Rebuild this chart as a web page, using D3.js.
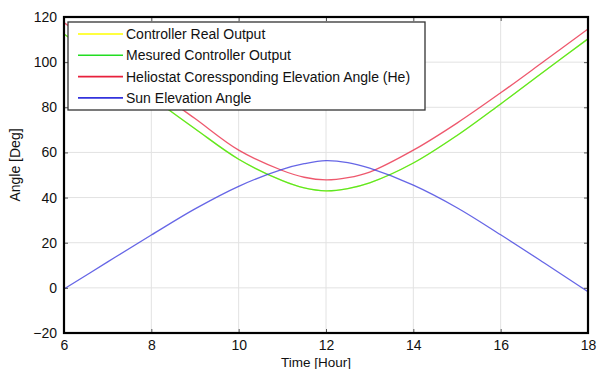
<!DOCTYPE html>
<html>
<head>
<meta charset="utf-8">
<script src="https://cdn.jsdelivr.net/npm/d3@7"></script>
<style>
  body { margin: 0; background: #fff; }
  svg { display: block; font-family: "Liberation Sans", Arial, sans-serif; }
</style>
</head>
<body>
<svg id="chart" width="597" height="369"></svg>
<script>
// time of day, hours
const hours = [6, 7, 8, 9, 10, 11, 11.5, 12, 12.5, 13, 14, 15, 16, 17, 18];
// (deg)
const realOutput = [112.5, 98.5, 84.5, 70.5, 57, 47.5, 44.3, 43, 44, 46.5, 55.3, 67.5, 81.5, 96, 110.3];
const measuredOutput = [112.5, 98.5, 84.5, 70.5, 57, 47.5, 44.3, 43, 44, 46.5, 55.3, 67.5, 81.5, 96, 110.3];
const heliostatAngle = [117.5, 103.5, 89, 75, 61, 52, 49, 47.8, 48.8, 51.3, 61, 73, 86.4, 100.5, 114.7];
const sunElevation = [-0.5, 11.5, 23.4, 35, 45, 52.5, 55, 56.4, 55.5, 53, 45.5, 35.5, 23.5, 11, -1.7];

const xTicks = [6, 8, 10, 12, 14, 16, 18];
const yTicks = [-20, 0, 20, 40, 60, 80, 100, 120];

const seriesNames = ["Controller Real Output", "Mesured Controller Output",
  "Heliostat Coressponding Elevation Angle (He)", "Sun Elevation Angle"];
const seriesColors = ["#ffff00", "#22dd22", "#e8203c", "#3333dd"];

const width = 597, height = 369;
const margin = { top: 17, right: 9, bottom: 36, left: 64 };

const svg = d3.select("#chart");

const x = d3.scaleLinear().domain([6, 18]).range([margin.left, width - margin.right]);
const y = d3.scaleLinear().domain([-20, 120]).range([height - margin.bottom, margin.top]);

// grid
svg.append("g")
  .selectAll("line.gx")
  .data(xTicks.slice(1, -1))
  .enter().append("line")
  .attr("x1", d => x(d)).attr("x2", d => x(d))
  .attr("y1", y(120)).attr("y2", y(-20))
  .attr("stroke", "#e2e2e2").attr("stroke-width", 1);
svg.append("g")
  .selectAll("line.gy")
  .data(yTicks.slice(1, -1))
  .enter().append("line")
  .attr("x1", x(6)).attr("x2", x(18))
  .attr("y1", d => y(d)).attr("y2", d => y(d))
  .attr("stroke", "#e2e2e2").attr("stroke-width", 1);

// curves
const line = d3.line()
  .x((d, i) => x(hours[i]))
  .y(d => y(d))
  .curve(d3.curveCatmullRom.alpha(0.5));

const allSeries = [realOutput, measuredOutput, heliostatAngle, sunElevation];
svg.append("defs").append("clipPath").attr("id", "plotclip")
  .append("rect")
  .attr("x", x(6)).attr("y", y(120))
  .attr("width", x(18) - x(6)).attr("height", y(-20) - y(120));

svg.append("g")
  .attr("clip-path", "url(#plotclip)")
  .selectAll("path")
  .data(allSeries)
  .enter().append("path")
  .attr("d", d => line(d))
  .attr("fill", "none")
  .attr("stroke", (d, i) => seriesColors[i])
  .attr("stroke-opacity", 0.75)
  .attr("stroke-width", 1.3);

// axes (left / bottom with labels, top / right ticks only)
const yAxis = d3.axisLeft(y).tickValues(yTicks).tickSize(-4).tickPadding(7);
const xAxis = d3.axisBottom(x).tickValues(xTicks).tickSize(-4).tickPadding(7);

svg.append("g")
  .attr("transform", `translate(${x(6)},0)`)
  .call(yAxis);
svg.append("g")
  .attr("transform", `translate(0,${y(-20)})`)
  .call(xAxis);
svg.append("g")
  .attr("transform", `translate(${x(18)},0)`)
  .call(d3.axisRight(y).tickValues(yTicks).tickSize(-4).tickFormat(""));
svg.append("g")
  .attr("transform", `translate(0,${y(120)})`)
  .call(d3.axisTop(x).tickValues(xTicks).tickSize(-4).tickFormat(""));

svg.selectAll(".domain").remove();
svg.selectAll(".tick line").attr("stroke", "#555");
svg.selectAll(".tick text")
  .attr("fill", "#111")
  .style("font-size", "14px")
  .style("font-family", "'Liberation Sans', Arial, sans-serif");

// thick box
svg.append("rect")
  .attr("x", x(6)).attr("y", y(120))
  .attr("width", x(18) - x(6)).attr("height", y(-20) - y(120))
  .attr("fill", "none")
  .attr("stroke", "#000")
  .attr("stroke-width", 2.2);

// axis titles
svg.append("text")
  .attr("x", 316)
  .attr("y", 367)
  .attr("text-anchor", "middle")
  .style("font-size", "13.5px")
  .attr("fill", "#111")
  .text("Time [Hour]");

svg.append("text")
  .attr("transform", "translate(20,165) rotate(-90)")
  .attr("text-anchor", "middle")
  .style("font-size", "14px")
  .attr("fill", "#111")
  .text("Angle [Deg]");

// legend
const legend = svg.append("g");
legend.append("rect")
  .attr("x", 68).attr("y", 22)
  .attr("width", 357).attr("height", 88)
  .attr("fill", "#fff")
  .attr("stroke", "#333")
  .attr("stroke-width", 1.3);

const rows = legend.selectAll("g.row")
  .data(seriesNames)
  .enter().append("g")
  .attr("transform", (d, i) => `translate(0,${34 + i * 21.3})`);
rows.append("line")
  .attr("x1", 78).attr("x2", 123)
  .attr("y1", 0).attr("y2", 0)
  .attr("stroke", (d, i) => seriesColors[i])
  .attr("stroke-width", 1.6);
rows.append("text")
  .attr("x", 126)
  .attr("dy", "0.36em")
  .style("font-size", "14px")
  .attr("fill", "#111")
  .text(d => d);
</script>
</body>
</html>
